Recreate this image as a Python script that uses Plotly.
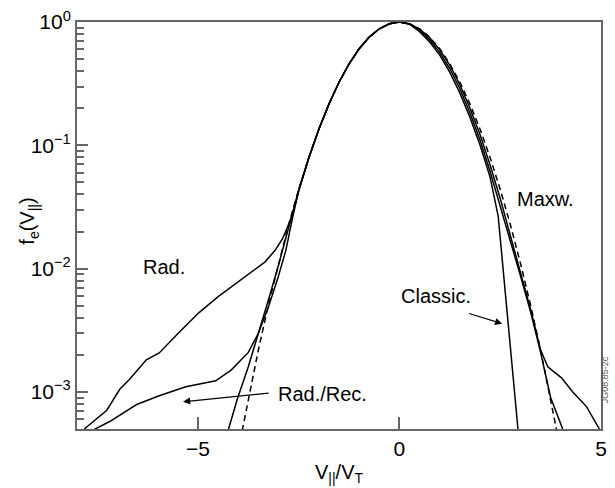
import plotly.graph_objects as go

# ---------------- data ----------------
maxw_v = [-4.0, -3.75, -3.5, -3.25, -3.0, -2.75, -2.5, -2.25, -2.0, -1.75, -1.5, -1.25,
          -1.0, -0.75, -0.5, -0.25, 0.0, 0.25, 0.5, 0.75, 1.0, 1.25, 1.5, 1.75, 2.0,
          2.25, 2.5, 2.75, 3.0, 3.25, 3.5, 3.75, 4.0]
maxw_f = [3.35e-4, 8.8e-4, 2.19e-3, 5.1e-3, 1.11e-2, 2.28e-2, 4.39e-2, 7.95e-2, 0.135,
          0.216, 0.325, 0.458, 0.607, 0.755, 0.882, 0.969, 1.0, 0.969, 0.882, 0.755,
          0.607, 0.458, 0.325, 0.216, 0.135, 7.95e-2, 4.39e-2, 2.28e-2, 1.11e-2,
          5.1e-3, 2.19e-3, 8.8e-4, 3.35e-4]

core_left_v = [-2.25, -2.0, -1.75, -1.5, -1.25, -1.0, -0.75, -0.5, -0.25, 0.0]
core_left_f = [7.9e-2, 0.135, 0.216, 0.325, 0.458, 0.607, 0.755, 0.882, 0.969, 1.0]

rad_v = [-7.82, -7.26, -6.94, -6.70, -6.28, -5.96, -5.47, -4.98, -4.49, -4.07, -3.68,
         -3.34, -3.09, -2.90, -2.72, -2.6, -2.5] + core_left_v + \
        [0.25, 0.5, 0.75, 1.0, 1.25, 1.5, 1.75, 2.0, 2.25, 2.5, 2.75, 3.0, 3.25, 3.5,
         3.68, 4.02, 4.3, 4.64, 4.96]
rad_f = [5.0e-4, 7.1e-4, 1.05e-3, 1.26e-3, 1.82e-3, 2.07e-3, 3.03e-3, 4.38e-3, 5.96e-3,
         7.55e-3, 9.4e-3, 1.13e-2, 1.40e-2, 1.75e-2, 2.4e-2, 3.2e-2, 4.3e-2] + core_left_f + \
        [0.968, 0.878, 0.745, 0.595, 0.445, 0.31, 0.2, 0.122, 0.069, 0.037, 0.0185,
         0.0095, 0.0047, 0.0022, 0.0016, 0.0013, 0.0010, 7.6e-4, 5.0e-4]

radrec_v = [-7.60, -7.19, -6.52, -5.96, -5.30, -4.56, -4.17, -3.75, -3.51, -3.26, -3.02,
            -2.82, -2.65, -2.5] + core_left_v + \
           [0.25, 0.5, 0.75, 1.0, 1.25, 1.5, 1.75, 2.0, 2.25, 2.5, 2.75, 3.0, 3.25,
            3.5, 3.75, 4.05]
radrec_f = [4.9e-4, 5.75e-4, 7.9e-4, 9.3e-4, 1.10e-3, 1.23e-3, 1.51e-3, 2.09e-3, 2.95e-3,
            4.79e-3, 8.3e-3, 1.4e-2, 2.6e-2, 4.3e-2] + core_left_f + \
           [0.965, 0.856, 0.717, 0.565, 0.418, 0.288, 0.183, 0.110, 0.061, 0.0325, 0.0168,
            0.0088, 0.0045, 0.0021, 9.0e-4, 5.0e-4]

classic_v = [-4.24, -4.02, -3.75, -3.5, -3.25, -3.0, -2.75, -2.5] + core_left_v + \
            [0.25, 0.5, 0.75, 1.0, 1.25, 1.5, 1.75, 2.0, 2.25, 2.38, 2.45, 2.70, 2.87, 2.94]
classic_f = [5.0e-4, 8.8e-4, 1.6e-3, 2.95e-3, 5.6e-3, 1.07e-2, 2.2e-2, 4.3e-2] + core_left_f + \
            [0.96, 0.835, 0.69, 0.54, 0.39, 0.265, 0.168, 0.10, 0.055, 0.034, 0.0265,
             3.5e-3, 8.7e-4, 5.0e-4]

y_tickvals = [1e-3, 1e-2, 1e-1, 1]
y_ticktext = ["10<sup>\u22123</sup>", "10<sup>\u22122</sup>", "10<sup>\u22121</sup>", "10<sup>0</sup>"]
y_minor = [m * 10.0 ** e for e in (-4, -3, -2, -1) for m in range(2, 10) if m * 10.0 ** e >= 5e-4]
x_tickvals = [-5, 0, 5]
x_ticktext = ["\u22125", "0", "5"]

# ---------------- figure ----------------
FONT = "Liberation Sans, Arial, Helvetica, sans-serif"
AX = "#666666"
fig = go.Figure()
fig.add_trace(go.Scatter(x=maxw_v, y=maxw_f, mode="lines",
                         line=dict(color="black", width=1.5, dash="6px,4px")))
for v, f in ((rad_v, rad_f), (radrec_v, radrec_f), (classic_v, classic_f)):
    fig.add_trace(go.Scatter(x=v, y=f, mode="lines", line=dict(color="black", width=1.5)))

fig.update_layout(
    width=615, height=488, showlegend=False,
    margin=dict(l=77, r=8, t=14, b=57),
    paper_bgcolor="white", plot_bgcolor="white",
    font=dict(family=FONT, size=20, color="black"),
)
fig.update_xaxes(range=[-8, 5], tickvals=x_tickvals, ticktext=x_ticktext,
                 tickfont=dict(size=21), ticklabeloverflow="allow",
                 ticks="inside", ticklen=12, tickwidth=1.5, tickcolor=AX,
                 showline=True, linecolor=AX, linewidth=2, mirror=True,
                 showgrid=False, zeroline=False,
                 title=dict(text="V<sub>||</sub>/V<sub>T</sub>", standoff=6,
                            font=dict(size=20)))
fig.update_yaxes(type="log", range=[-3.301, 0.0005], tickvals=y_tickvals, ticktext=y_ticktext,
                 tickfont=dict(size=21), ticklabeloverflow="allow",
                 ticks="inside", ticklen=11, tickwidth=1.5, tickcolor=AX,
                 minor=dict(tickvals=y_minor, ticks="inside", ticklen=7, tickwidth=1.5,
                            tickcolor=AX, showgrid=False),
                 showline=True, linecolor=AX, linewidth=2, mirror=True,
                 showgrid=False, zeroline=False)

ann_font = dict(family=FONT, size=20, color="black")
# y-axis title placed as rotated text
fig.add_annotation(xref="paper", yref="paper", x=(28 - 77) / 530, y=(431 - 218) / 417,
                   xanchor="center", yanchor="middle", text="f<sub>e</sub>(V<sub>||</sub>)",
                   showarrow=False, textangle=-90, font=ann_font)
fig.add_annotation(x=2.87, y=-1.433, xref="x", yref="y", text="Maxw.", showarrow=False,
                   xanchor="left", yanchor="middle", font=ann_font)
fig.add_annotation(x=-5.84, y=-1.987, xref="x", yref="y", text="Rad.", showarrow=False,
                   xanchor="center", yanchor="middle", font=ann_font)
fig.add_annotation(x=0.0, y=-2.225, xref="x", yref="y", text="Classic.", showarrow=False,
                   xanchor="left", yanchor="middle", font=ann_font)
fig.add_annotation(x=-3.07, y=-3.017, xref="x", yref="y", text="Rad./Rec.", showarrow=False,
                   xanchor="left", yanchor="middle", font=ann_font)
# arrows
fig.add_annotation(x=2.55, y=-2.447, ax=1.69, ay=-2.36, xref="x", yref="y",
                   axref="x", ayref="y", text="", showarrow=True, arrowhead=2,
                   arrowsize=1.2, arrowwidth=1.2, arrowcolor="black")
fig.add_annotation(x=-5.37, y=-3.08, ax=-3.21, ay=-3.009, xref="x", yref="y",
                   axref="x", ayref="y", text="", showarrow=True, arrowhead=2,
                   arrowsize=1.2, arrowwidth=1.2, arrowcolor="black")
fig.add_annotation(xref="paper", yref="paper", x=(611 - 77) / 530, y=(431 - 380) / 417,
                   xanchor="center", yanchor="middle", text="JG08.85-2c",
                   showarrow=False, textangle=-90,
                   font=dict(family=FONT, size=9, color="#555555"))

fig.write_html("out.html")
